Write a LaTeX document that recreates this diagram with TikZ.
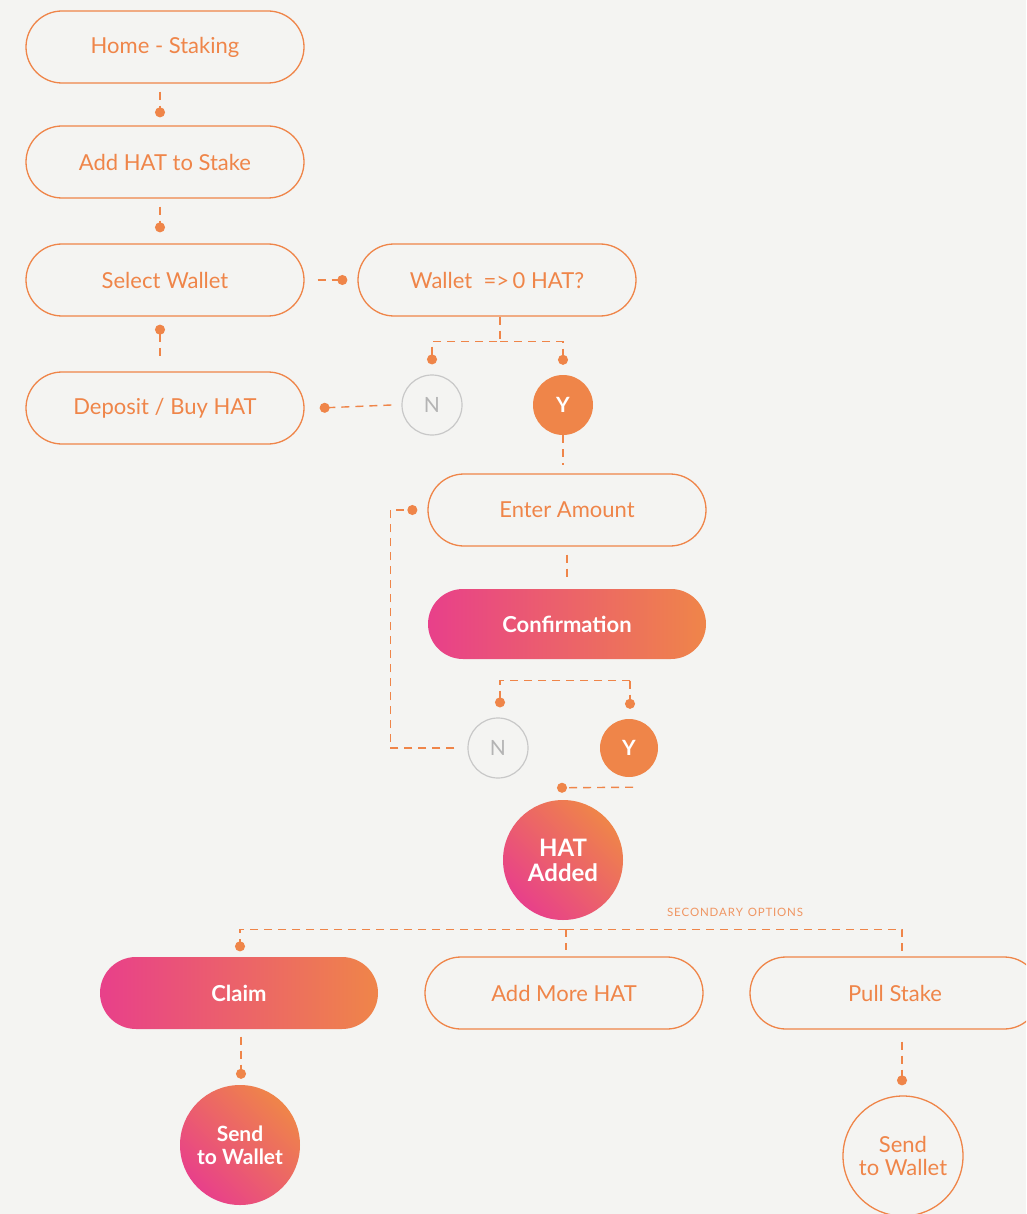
\documentclass[tikz,border=0pt]{standalone}
\usepackage{fontspec}
\setmainfont{Lato}
\usetikzlibrary{arrows.meta,calc}
\definecolor{bg}{HTML}{F4F4F2}
\definecolor{org}{HTML}{EF8549}
\definecolor{pnk}{HTML}{E8408A}
\definecolor{gry}{HTML}{C8C8C8}
\definecolor{gtx}{HTML}{B4B4B4}
\tikzset{
  pill/.style={draw=org, line width=1.3pt, rounded corners=36pt, minimum width=278pt,
    minimum height=72pt, inner sep=0pt, text=org, font=\fontsize{22}{25}\selectfont},
  gpill/.style={pill, draw=none, left color=pnk, right color=org, text=white,
    font=\fontsize{22}{25}\selectfont\bfseries},
  nbub/.style={circle, draw=gry, line width=1.2pt, minimum size=60pt, inner sep=0pt,
    text=gtx, font=\fontsize{21}{24}\selectfont},
  ybub/.style={circle, fill=org, minimum size=60pt, inner sep=0pt,
    text=white, font=\fontsize{21}{24}\selectfont\bfseries},
  bigbub/.style={circle, minimum size=120pt, inner sep=0pt, align=center,
    top color=org, bottom color=pnk, shading angle=-45, text=white},
  obub/.style={circle, draw=org, line width=1.3pt, minimum size=120pt, inner sep=0pt,
    align=center, text=org, font=\fontsize{22}{23}\selectfont},
  conn/.style={draw=org, line width=1.4pt, dash pattern=on 8pt off 6pt},
  dot/.style={-{Circle[length=10pt,width=10pt]}},
  tod/.style={{Circle[length=10pt,width=10pt]}-},
}
\begin{document}
\begin{tikzpicture}[x=1pt,y=-1pt]
\fill[bg] (0,0) rectangle (1026,1214);
\useasboundingbox (0,0) rectangle (1026,1214);
\begin{scope}
\clip (0,0) rectangle (1026,1214);
% nodes
\node[pill] (home) at (165,47) {Home - Staking};
\node[pill] (add) at (165,162) {Add HAT to Stake};
\node[pill] (sel) at (165,280) {Select Wallet};
\node[pill] (wal) at (497,280) {Wallet \ =>\,0 HAT?};
\node[pill] (dep) at (165,408) {Deposit / Buy HAT};
\node[nbub] (n1) at (432,405) {N};
\node[ybub] (y1) at (563,405) {Y};
\node[pill] (ent) at (567,510) {Enter Amount};
\node[gpill, minimum height=70pt, rounded corners=35pt] (conf) at (567,624) {Confirmation};
\node[nbub] (n2) at (498,748) {N};
\node[ybub, minimum size=58pt] (y2) at (629,748) {Y};
\node[bigbub, font=\fontsize{24}{25}\selectfont\bfseries] (hat) at (563,860) {HAT\\Added};
\node[text=org, font=\fontsize{11.5}{13}\selectfont, text opacity=0.85] (sec) at (735,912) {S\kern.8pt E\kern.8pt C\kern.8pt O\kern.8pt N\kern.8pt D\kern.8pt A\kern.8pt R\kern.8pt Y\ \,O\kern.8pt P\kern.8pt T\kern.8pt I\kern.8pt O\kern.8pt N\kern.8pt S};
\node[gpill] (claim) at (239,993) {Claim};
\node[pill] (more) at (564,993) {Add More HAT};
\node[pill, minimum width=290pt] (pull) at (895,993) {Pull Stake};
\node[bigbub, font=\fontsize{21}{23}\selectfont\bfseries] (send1) at (240,1145) {Send\\to Wallet};
\node[obub] (send2) at (903,1156) {Send\\to Wallet};
% connectors
\draw[conn,dot] ($(home.south)+(-5,8)$) -- ($(add.north)+(-5,-8)$);
\draw[conn,dot] ($(add.south)+(-5,8)$) -- ($(sel.north)+(-5,-11)$);
\draw[conn,dot] ($(sel.east)+(13,0)$) -- ($(wal.west)+(-10,0)$);
\draw[conn,tod] ($(sel.south)+(-5,8)$) -- ($(dep.north)+(-5,-11)$);
\draw[conn,dot] ($(wal.south)+(3,0)$) -- ++(0,25) -| ($(n1.north)+(0,-10)$);
\draw[conn,dot] ($(wal.south)+(3,25)$) -| ($(y1.north)+(0,-10)$);
\draw[conn,dot] ($(n1.west)+(-10,0)$) -- ($(dep.east)+(15,0)$);
\draw[conn] (y1.south) -- ($(y1.south |- ent.north)+(0,-8)$);
\draw[conn] ($(ent.south)+(0,8)$) -- ($(conf.north)+(0,-10)$);
\draw[conn,dot] ($(y2.north |- conf.south)+(1,21)$) -| ($(n2.north)+(2,-10)$);
\draw[conn,dot] ($(y2.north |- conf.south)+(1,21)$) -- ($(y2.north)+(1,-10)$);
\draw[conn,dot] ($(n2.west)+(-13,0)$) -- ++(-64,0) |- ($(ent.west)+(-10,0)$);
\draw[conn,dot] ($(y2.south)+(4,10)$) -- ($(hat.north)+(-6,-12)$);
\draw[conn,dot] ($(hat.south)+(3,9)$) -| ($(claim.north)+(1,-5)$);
\draw[conn] ($(hat.south)+(3,9)$) -- ($(more.north)+(2,-6)$);
\draw[conn] ($(hat.south)+(3,9)$) -| ($(pull.north)+(7,0)$);
\draw[conn,dot] ($(claim.south)+(2,7)$) -- ($(send1.north)+(1,-6)$);
\draw[conn,dot] ($(pull.south)+(7,12)$) -- ($(send2.north)+(-1,-10)$);
\end{scope}
\end{tikzpicture}
\end{document}
